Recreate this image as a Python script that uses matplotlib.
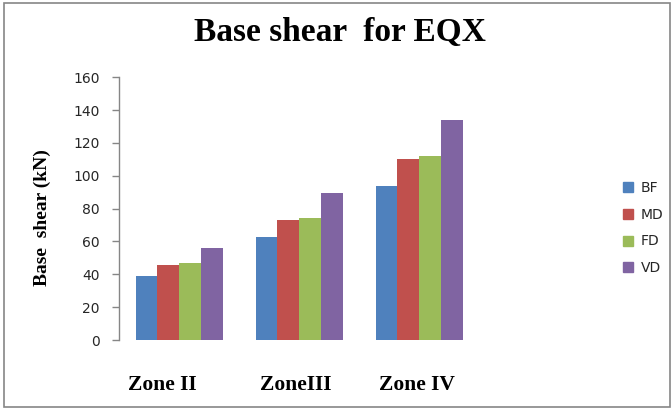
import numpy as np
import matplotlib
matplotlib.use("Agg")
import matplotlib.pyplot as plt
from matplotlib.patches import Rectangle
from matplotlib.lines import Line2D

zones = ["Zone II", "ZoneIII", "Zone IV"]
series = ["BF", "MD", "FD", "VD"]
bf = [39.2, 62.5, 94.0]
md = [45.5, 73.1, 110.0]
fd = [46.7, 74.5, 111.9]
vd = [55.8, 89.3, 134.0]
colors = ["#4F81BD", "#C0504D", "#9BBB59", "#8064A2"]
yticks = [0, 20, 40, 60, 80, 100, 120, 140, 160]

fig = plt.figure(figsize=(6.72, 4.09), dpi=100)
ax = fig.add_axes([119 / 672, 1 - 340 / 409, 360 / 672, (340 - 77.3) / 409])

x = np.arange(len(zones))
bw = 0.725 / 4
for i, (vals, c) in enumerate(zip([bf, md, fd, vd], colors)):
    ax.bar(x - 0.3625 + bw * (i + 0.5), vals, width=bw, color=c, label=series[i])

ax.set_xlim(-0.5, 2.5)
ax.set_ylim(0, 160)
ax.set_yticks(yticks)
ax.set_yticklabels([str(t) for t in yticks], fontfamily="DejaVu Sans",
                   fontsize=10, color="#262626")
ax.set_xticks([])
ax.tick_params(axis="y", direction="out", length=5, color="#868686", width=1, pad=9)
for s in ["top", "right", "bottom"]:
    ax.spines[s].set_visible(False)
ax.spines["left"].set_color("#868686")
ax.spines["left"].set_linewidth(1)

# category labels sit a little left of their groups
label_shift_px = [-17, -3, -2]
for xi, name, dx in zip(x, zones, label_shift_px):
    ax.annotate(name, xy=(xi, 0), xycoords=("data", "axes fraction"),
                xytext=(dx * 0.72, -45 * 0.72), textcoords="offset points",
                ha="center", va="center", fontfamily="Liberation Serif",
                fontweight="bold", fontsize=15.5)

fig.text(42 / 672, 1 - 218 / 409, "Base  shear (kN)", rotation=90, ha="center", va="center",
         fontfamily="Liberation Serif", fontweight="bold", fontsize=14)
fig.text(340 / 672, 1 - 33 / 409, "Base shear  for EQX", ha="center", va="center",
         fontfamily="Liberation Serif", fontweight="bold", fontsize=24)

handles = [Line2D([], [], marker="s", linestyle="none", markersize=7,
                  markerfacecolor=c, markeredgecolor=c) for c in colors]
leg = fig.legend(handles, series, loc="center left", bbox_to_anchor=(610 / 672, 1 - 228 / 409),
                 frameon=False, prop={"family": "DejaVu Sans", "size": 10},
                 handlelength=0.8, handletextpad=0.5, labelspacing=0.92)
for t in leg.get_texts():
    t.set_color("#262626")

fig.patches.append(Rectangle((4 / 672, 2 / 409), 666 / 672, 404 / 409, transform=fig.transFigure,
                             fill=False, edgecolor="#868686", linewidth=1.2))

fig.savefig("out.png", dpi=100)
